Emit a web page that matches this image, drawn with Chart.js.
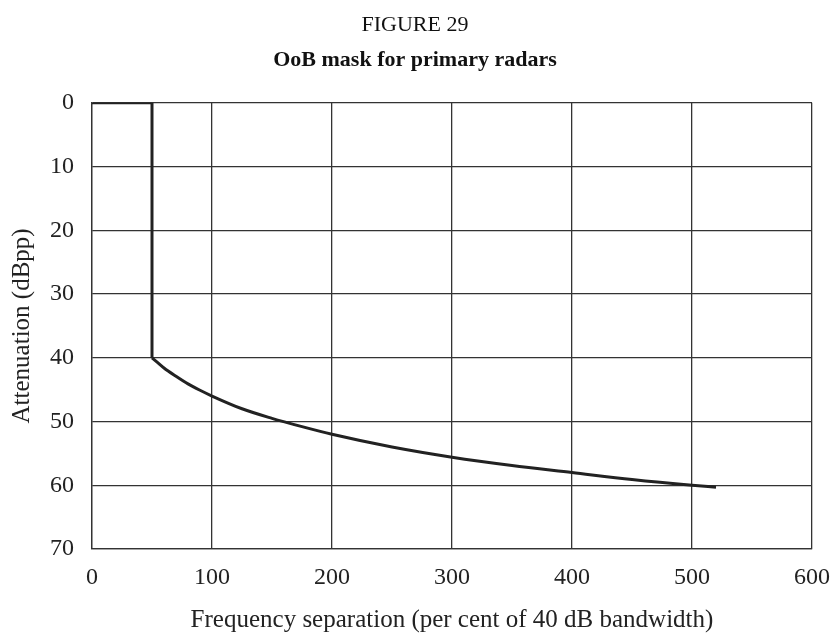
<!DOCTYPE html>
<html>
<head>
<meta charset="utf-8">
<script src="https://cdn.jsdelivr.net/npm/chart.js@4.4.0/dist/chart.umd.min.js"></script>
<style>
    html, body { margin: 0; padding: 0; background: #fff; }
    #wrap { width: 830px; height: 635px; }
</style>
</head>
<body>
<div id="wrap"><canvas id="mask" width="830" height="635"></canvas></div>
<script>
// Step part of the mask (flat top, then vertical drop)
const stepFreq = [0, 50, 50];
const stepAtten = [0, 0, 40];

// Roll-off part
const curveFreq = [50, 55, 60, 70, 80, 90, 100, 125, 150, 175, 200, 250, 300, 350, 400, 450, 500, 520];
const curveAtten = [40, 40.8, 41.6, 42.9, 44.1, 45.1, 46, 48, 49.5, 50.8, 52, 54, 55.6, 56.9, 58, 59.1, 60, 60.3];

const xTicks = [0, 100, 200, 300, 400, 500, 600];
const yTicks = [0, 10, 20, 30, 40, 50, 60, 70];

const serif = "'Liberation Serif', 'Times New Roman', serif";
const gridColor = '#333333';

function toPoints(xs, ys) {
    let data = [];
    xs.forEach(function(f, i) {
        data.push({ x: f, y: ys[i] });
    });
    return data;
}

const maskOptions = {
    responsive: false,
    animation: false,
    layout: {
        padding: { left: 0, right: 0, top: 0, bottom: 0 }
    },
    plugins: {
        legend: { display: false },
        tooltip: { enabled: false },
        title: {
            display: true,
            text: 'FIGURE 29',
            color: '#111',
            font: { family: serif, size: 22, weight: 'normal' },
            padding: { top: 12, bottom: 9 }
        },
        subtitle: {
            display: true,
            text: 'OoB mask for primary radars',
            color: '#111',
            font: { family: serif, size: 22, weight: 'bold' },
            padding: { top: 0, bottom: 29 }
        }
    },
    scales: {
        x: {
            type: 'linear',
            min: 0,
            max: 600,
            afterBuildTicks: function(scale) {
                scale.ticks = xTicks.map(v => ({ value: v }));
            },
            afterFit: function(scale) {
                scale.height = 86;
                scale.paddingLeft = 0;
                scale.paddingRight = 18;
            },
            grid: { color: gridColor, lineWidth: 1.3, drawTicks: false },
            border: { color: gridColor, width: 1.3 },
            ticks: {
                color: '#222',
                font: { family: serif, size: 24 },
                padding: 14,
                maxRotation: 0
            },
            title: {
                display: true,
                text: 'Frequency separation (per cent of 40 dB bandwidth)',
                color: '#222',
                font: { family: serif, size: 25 },
                padding: { top: 0, bottom: 0 }
            }
        },
        y: {
            type: 'linear',
            reverse: true,
            min: 0,
            max: 70,
            afterBuildTicks: function(scale) {
                scale.ticks = yTicks.map(v => ({ value: v }));
            },
            afterFit: function(scale) { scale.width = 92; },
            grid: { color: gridColor, lineWidth: 1.3, drawTicks: false },
            border: { color: gridColor, width: 1.3 },
            ticks: {
                color: '#222',
                font: { family: serif, size: 24 },
                padding: 18
            },
            title: {
                display: true,
                text: 'Attenuation (dBpp)',
                color: '#222',
                font: { family: serif, size: 25 },
                padding: { top: 7, bottom: 0 }
            }
        }
    }
};

function createMaskChart() {
    const ctx = document.querySelector('#mask').getContext('2d');

    const configuration = {
        type: 'line',
        data: {
            datasets: [
                {
                    data: toPoints(stepFreq, stepAtten),
                    borderColor: '#222222',
                    borderWidth: 3,
                    pointRadius: 0,
                    fill: false,
                    tension: 0
                },
                {
                    data: toPoints(curveFreq, curveAtten),
                    borderColor: '#222222',
                    borderWidth: 3,
                    pointRadius: 0,
                    fill: false,
                    cubicInterpolationMode: 'monotone'
                }
            ]
        },
        options: maskOptions
    };

    new Chart(ctx, configuration);
}

createMaskChart();
</script>
</body>
</html>
